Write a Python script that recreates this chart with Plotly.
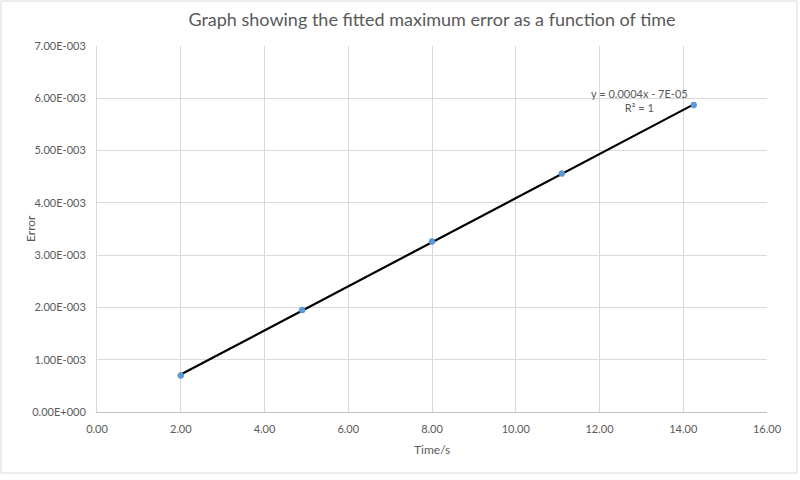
import numpy as np
import plotly.graph_objects as go

time_s = [2.0, 4.9, 8.0, 11.1, 14.25]
error = [0.0007, 0.00195, 0.00326, 0.00456, 0.00587]
x_ticks = [0, 2, 4, 6, 8, 10, 12, 14, 16]
y_ticks = [0, 0.001, 0.002, 0.003, 0.004, 0.005, 0.006, 0.007]
y_tick_labels = ["0.00E+000", "1.00E-003", "2.00E-003", "3.00E-003",
                 "4.00E-003", "5.00E-003", "6.00E-003", "7.00E-003"]
trend_label = "y = 0.0004x - 7E-05<br>R² = 1"

W, H = 800, 480
L, R, T, B = 97, 33, 46, 68

slope, intercept = np.polyfit(time_s, error, 1)
tx = [min(time_s), max(time_s)]
ty = [slope * v + intercept for v in tx]

font_family = "Lato, 'Open Sans', sans-serif"
gray = "#595959"

fig = go.Figure()
fig.add_trace(go.Scatter(x=tx, y=ty, mode="lines",
                         line=dict(color="black", width=2.2), hoverinfo="skip"))
fig.add_trace(go.Scatter(x=time_s, y=error, mode="markers",
                         marker=dict(color="#5b9bd5", size=6,
                                     line=dict(color="#4a86c0", width=0.5))))

pw, ph = W - L - R, H - T - B
fig.add_shape(type="rect", xref="paper", yref="paper",
              x0=(1 - L) / pw, x1=(W - 3 - L) / pw,
              y0=-(B - 7) / ph, y1=1 + (T - 1) / ph,
              line=dict(color="#d9d9d9", width=1), fillcolor="rgba(0,0,0,0)")

fig.add_annotation(x=tx[1], y=ty[1], xref="x", yref="y", text=trend_label,
                   showarrow=False, xanchor="center", yanchor="bottom",
                   xshift=-54, yshift=-12, align="center",
                   font=dict(family=font_family, size=11, color=gray))

# axis titles
fig.add_annotation(x=0.5, y=-(449 - 412) / ph, xref="paper", yref="paper",
                   text="Time/s", showarrow=False, xanchor="center", yanchor="middle",
                   font=dict(family=font_family, size=12, color=gray))
fig.add_annotation(x=-(L - 30) / pw, y=(412 - 229) / ph, xref="paper", yref="paper",
                   text="Error", showarrow=False, textangle=-90,
                   xanchor="center", yanchor="middle",
                   font=dict(family=font_family, size=12, color=gray))

fig.update_layout(
    width=W, height=H,
    margin=dict(l=L, r=R, t=T, b=B),
    paper_bgcolor="white", plot_bgcolor="white",
    showlegend=False,
    title=dict(text="Graph showing the fitted maximum error as a function of time",
               x=0.5, xref="paper", xanchor="center", y=1 - 20 / H, yanchor="middle",
               font=dict(family=font_family, size=18, color=gray)),
    font=dict(family=font_family, color=gray, size=11),
    xaxis=dict(range=[0, 16], tickvals=x_ticks, tickformat=".2f",
               showgrid=True, gridcolor="#d9d9d9", gridwidth=1,
               showline=True, linecolor="#bfbfbf", linewidth=1,
               zeroline=False, ticks="", ticklen=0, ticklabelstandoff=7,
               tickfont=dict(size=11, color=gray)),
    yaxis=dict(range=[0, 0.007], tickvals=y_ticks, ticktext=y_tick_labels,
               showgrid=True, gridcolor="#d9d9d9", gridwidth=1,
               showline=True, linecolor="#d9d9d9", linewidth=1,
               zeroline=False, ticks="", ticklabelstandoff=8,
               tickfont=dict(size=11, color=gray)),
)

fig.write_html("out.html")
